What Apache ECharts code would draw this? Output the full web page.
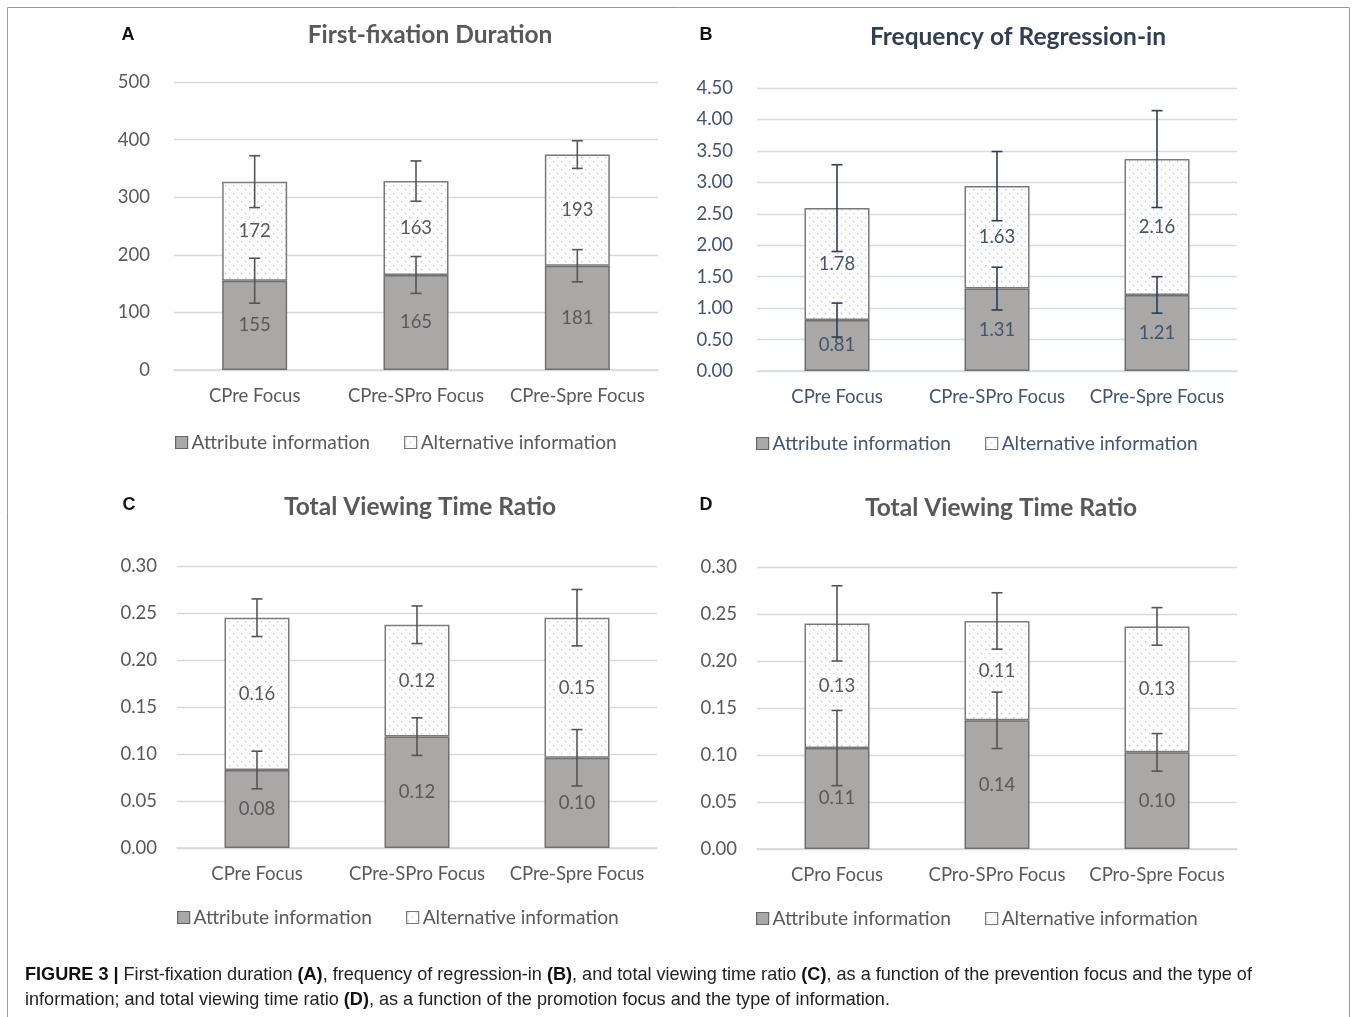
<!DOCTYPE html>
<html>
<head>
<meta charset="utf-8">
<script src="https://cdn.jsdelivr.net/npm/echarts@6/dist/echarts.min.js"></script>
<style>
  html, body { margin: 0; padding: 0; background: #fff; }
  #chart { width: 1357px; height: 1017px; }
</style>
</head>
<body>
<div id="chart"></div>
<script>
// categories
const preCats = ['CPre Focus', 'CPre-SPro Focus', 'CPre-Spre Focus']
const proCats = ['CPro Focus', 'CPro-SPro Focus', 'CPro-Spre Focus']

// A: first-fixation duration
const aAttr = [155, 165, 181]
const aAlt = [172, 163, 193]
const aAttrErr = [39, 32, 28]
const aAltErr = [45, 35, 24]

// B: frequency of regression-in
const bAttr = [0.81, 1.31, 1.21]
const bAlt = [1.78, 1.63, 2.16]
const bAttrErr = [0.27, 0.34, 0.29]
const bAltErr = [0.69, 0.55, 0.77]

// C: total viewing time ratio (prevention)
const cAttr = [0.083, 0.1185, 0.096]
const cAlt = [0.162, 0.119, 0.149]
const cAttrErr = [0.02, 0.02, 0.03]
const cAltErr = [0.02, 0.02, 0.03]

// D: total viewing time ratio (promotion)
const dAttr = [0.1074, 0.1369, 0.1028]
const dAlt = [0.1326, 0.1057, 0.134]
const dAttrErr = [0.04, 0.03, 0.02]
const dAltErr = [0.04, 0.03, 0.02]

const FONT = 'Lato, "Open Sans", sans-serif'
const FS = 18.5
const GRAY_TXT = '#595959'
const NAVY_TXT = '#44546a'

// dotted pattern for "Alternative information"
const dotCanvas = document.createElement('canvas')
dotCanvas.width = 8
dotCanvas.height = 8
const dctx = dotCanvas.getContext('2d')
dctx.fillStyle = '#ffffff'
dctx.fillRect(0, 0, 8, 8)
dctx.fillStyle = '#c4c4c4'
dctx.fillRect(1, 1, 1.3, 1.3)
dctx.fillRect(5, 5, 1.3, 1.3)
const dotPattern = { image: dotCanvas, repeat: 'repeat' }

const panels = [
  { cats: preCats, attr: aAttr, alt: aAlt, attrErr: aAttrErr, altErr: aAltErr,
    left: 174, top: 82, width: 484, height: 288, max: 500, interval: 100, dec: 0,
    txt: GRAY_TXT, grid: '#d9d9d9', err: '#555555', yMargin: 24,
    legendLeft: 170, legendTop: 428 },
  { cats: preCats, attr: bAttr, alt: bAlt, attrErr: bAttrErr, altErr: bAltErr,
    left: 757, top: 88, width: 480, height: 283, max: 4.5, interval: 0.5, dec: 2,
    txt: NAVY_TXT, grid: '#d6dce5', err: '#2f3e50', yMargin: 24,
    legendLeft: 751, legendTop: 429 },
  { cats: preCats, attr: cAttr, alt: cAlt, attrErr: cAttrErr, altErr: cAltErr,
    left: 177, top: 566, width: 480, height: 282, max: 0.3, interval: 0.05, dec: 2,
    txt: GRAY_TXT, grid: '#d9d9d9', err: '#555555', yMargin: 20,
    legendLeft: 172, legendTop: 903 },
  { cats: proCats, attr: dAttr, alt: dAlt, attrErr: dAttrErr, altErr: dAltErr,
    left: 757, top: 567, width: 480, height: 282, max: 0.3, interval: 0.05, dec: 2,
    txt: GRAY_TXT, grid: '#d9d9d9', err: '#555555', yMargin: 20,
    legendLeft: 751, legendTop: 904 }
]

const grids = [], xAxes = [], yAxes = [], series = [], legends = []

panels.forEach((p, i) => {
  grids.push({ left: p.left, top: p.top, width: p.width, height: p.height })
  xAxes.push({
    type: 'category', gridIndex: i, data: p.cats,
    axisLine: { lineStyle: { color: p.grid, width: 1.5 } },
    axisTick: { show: false },
    axisLabel: { color: p.txt, fontSize: FS, fontFamily: FONT, margin: 17, interval: 0 }
  })
  yAxes.push({
    type: 'value', gridIndex: i, min: 0, max: p.max, interval: p.interval,
    axisLine: { show: false }, axisTick: { show: false },
    splitLine: { lineStyle: { color: p.grid, width: 1.3 } },
    axisLabel: {
      color: p.txt, fontSize: FS, fontFamily: FONT, margin: p.yMargin,
      formatter: v => v.toFixed(p.dec)
    }
  })
  const label = {
    show: true, position: 'inside', fontSize: FS, fontFamily: FONT, color: p.txt,
    formatter: d => d.value.toFixed(p.dec)
  }
  series.push({
    name: 'Attribute information', type: 'bar', stack: 's' + i,
    xAxisIndex: i, yAxisIndex: i, barWidth: 65, data: p.attr,
    itemStyle: { color: '#aaa7a7', borderColor: '#707070', borderWidth: 1.5 },
    label: label
  })
  series.push({
    name: 'Alternative information', type: 'bar', stack: 's' + i,
    xAxisIndex: i, yAxisIndex: i, barWidth: 65, data: p.alt,
    itemStyle: { color: dotPattern, borderColor: '#7a7a7a', borderWidth: 1.5 },
    label: label
  })
  // error bars: [category, center, halfWidth]
  const errData = []
  p.attr.forEach((v, k) => {
    errData.push([k, v, p.attrErr[k]])
    errData.push([k, v + p.alt[k], p.altErr[k]])
  })
  series.push({
    type: 'custom', xAxisIndex: i, yAxisIndex: i, z: 5, silent: true,
    data: errData,
    renderItem: (params, api) => {
      const x = api.value(0)
      const hi = api.coord([x, api.value(1) + api.value(2)])
      const lo = api.coord([x, api.value(1) - api.value(2)])
      const cap = 5.5
      const style = { stroke: p.err, lineWidth: 1.6 }
      return {
        type: 'group',
        children: [
          { type: 'line', shape: { x1: hi[0], y1: hi[1], x2: lo[0], y2: lo[1] }, style },
          { type: 'line', shape: { x1: hi[0] - cap, y1: hi[1], x2: hi[0] + cap, y2: hi[1] }, style },
          { type: 'line', shape: { x1: lo[0] - cap, y1: lo[1], x2: lo[0] + cap, y2: lo[1] }, style }
        ]
      }
    }
  })
  legends.push({
    left: p.legendLeft, top: p.legendTop, itemWidth: 12, itemHeight: 12, itemGap: 34,
    selectedMode: false, icon: 'rect',
    textStyle: { color: p.txt, fontSize: 19.2, fontFamily: FONT, padding: [0, 0, 0, -1] },
    data: [
      { name: 'Attribute information', itemStyle: { color: '#aaa7a7', borderColor: '#666', borderWidth: 1.2 } },
      { name: 'Alternative information', itemStyle: { color: dotPattern, borderColor: '#777', borderWidth: 1.2 } }
    ]
  })
})

const titleText = (x, y, text, color) => ({
  type: 'text', x: x, y: y,
  style: { text: text, fill: color, font: 'bold 24.5px ' + FONT, align: 'center', verticalAlign: 'middle' }
})
const letter = (x, y, text) => ({
  type: 'text', x: x, y: y,
  style: { text: text, fill: '#111', font: 'bold 18px "Liberation Sans", Arial, sans-serif', align: 'center', verticalAlign: 'middle' }
})

const option = {
  animation: false,
  grid: grids,
  xAxis: xAxes,
  yAxis: yAxes,
  legend: legends,
  series: series,
  graphic: [
    { type: 'rect', shape: { x: 7.5, y: 7.5, width: 1342, height: 1030 },
      style: { fill: 'none', stroke: '#9a9a9a', lineWidth: 1 } },
    letter(128, 35, 'A'),
    letter(706, 35, 'B'),
    letter(129, 505, 'C'),
    letter(706, 505, 'D'),
    titleText(430, 35, 'First-fixation Duration', GRAY_TXT),
    titleText(1018, 37, 'Frequency of Regression-in', '#333f50'),
    titleText(420, 507, 'Total Viewing Time Ratio', GRAY_TXT),
    titleText(1001, 508, 'Total Viewing Time Ratio', GRAY_TXT),
    {
      type: 'text', x: 25, y: 962,
      style: {
        text: '{b|FIGURE 3 |} First-fixation duration {b|(A)}, frequency of regression-in {b|(B)}, and total viewing time ratio {b|(C)}, as a function of the prevention focus and the type of\n' +
              'information; and total viewing time ratio {b|(D)}, as a function of the promotion focus and the type of information.',
        font: '18.1px "Liberation Sans", Arial, sans-serif',
        fill: '#222',
        lineHeight: 25,
        rich: {
          b: { font: 'bold 18.1px "Liberation Sans", Arial, sans-serif', fill: '#111' }
        }
      }
    }
  ]
}

const chart = echarts.init(document.getElementById('chart'))
chart.setOption(option)
window.addEventListener('resize', () => chart.resize())
</script>
</body>
</html>
